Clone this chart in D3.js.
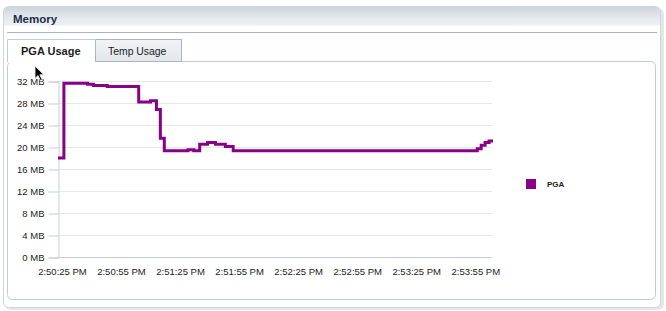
<!DOCTYPE html>
<html>
<head>
<meta charset="utf-8">
<script src="https://cdn.jsdelivr.net/npm/d3@7"></script>
<style>
  body { margin: 0; background: #fff; }
  svg text { font-family: "Liberation Sans", Arial, sans-serif; }
</style>
</head>
<body>
<div id="memory"></div>
<script>

// sample times (24h clock) and PGA usage in MB
var sampleTimes = ["14:50:23", "14:50:26", "14:50:38", "14:50:41", "14:50:48",
    "14:51:04", "14:51:10", "14:51:13", "14:51:15", "14:51:17",
    "14:51:29", "14:51:32", "14:51:35", "14:51:39", "14:51:43",
    "14:51:48", "14:51:52", "14:53:56", "14:53:58", "14:54:00",
    "14:54:02", "14:54:04"];
var pgaValues = [18.0, 31.6, 31.4, 31.2, 31.0,
    28.2, 28.4, 26.8, 21.6, 19.3,
    19.5, 19.3, 20.5, 20.8, 20.5,
    20.1, 19.3, 19.7, 20.3, 20.8,
    21.1, 21.1];

var yTicks = [0, 4, 8, 12, 16, 20, 24, 28, 32];
var xTickTimes = ["14:50:25", "14:50:55", "14:51:25", "14:51:55",
    "14:52:25", "14:52:55", "14:53:25", "14:53:55"];
var timeDomain = ["14:50:23", "14:54:04"];

var seriesNames = ["PGA"];
var tabNames = ["PGA Usage", "Temp Usage"];

/**
 * Constructor for the memory chart
 */
function MemoryChart(){
    var self = this;
    self.init();
};

/**
 * Draws the panel, header and tabs around the chart
 */
MemoryChart.prototype.init = function(){
    var self = this;
    self.width = 666;
    self.height = 311;

    self.svg = d3.select("#memory").append("svg")
        .attr("width", self.width)
        .attr("height", self.height);

    var defs = self.svg.append("defs");
    var hdr = defs.append("linearGradient").attr("id", "hdr")
        .attr("x1", 0).attr("y1", 0).attr("x2", 0).attr("y2", 1);
    hdr.append("stop").attr("offset", "0%").attr("stop-color", "#cfd4dd");
    hdr.append("stop").attr("offset", "60%").attr("stop-color", "#e6e9ee");
    hdr.append("stop").attr("offset", "100%").attr("stop-color", "#eef0f3");

    var tabg = defs.append("linearGradient").attr("id", "tabg")
        .attr("x1", 0).attr("y1", 0).attr("x2", 0).attr("y2", 1);
    tabg.append("stop").attr("offset", "0%").attr("stop-color", "#f1f3f6");
    tabg.append("stop").attr("offset", "100%").attr("stop-color", "#e3e7ec");

    //outer panel with a soft shadow
    self.svg.append("rect")
        .attr("x", 5).attr("y", 8).attr("width", 659).attr("height", 302)
        .attr("rx", 6).attr("fill", "#e4e6ea");
    self.svg.append("rect")
        .attr("x", 3.5).attr("y", 6.5).attr("width", 657).attr("height", 301)
        .attr("rx", 5).attr("fill", "#fff").attr("stroke", "#cfd4dc");

    //header band
    self.svg.append("path")
        .attr("d", "M4,25.5 L4,12 Q4,7 9,7 L655,7 Q660,7 660,12 L660,25.5 Z")
        .attr("fill", "url(#hdr)");
    self.svg.append("text")
        .attr("x", 13).attr("y", 22.5)
        .attr("font-size", "11.5px").attr("font-weight", "bold")
        .attr("fill", "#1c2d4a")
        .text("Memory");
    self.svg.append("line")
        .attr("x1", 7).attr("x2", 657).attr("y1", 32.5).attr("y2", 32.5)
        .attr("stroke", "#a8b3c5");

    //tab content box
    self.svg.append("rect")
        .attr("x", 7.5).attr("y", 61.5).attr("width", 648).attr("height", 238)
        .attr("rx", 5).attr("fill", "#fff").attr("stroke", "#c3cad6");

    //inactive tab
    self.svg.append("rect")
        .attr("x", 95.5).attr("y", 39.5).attr("width", 86).attr("height", 22)
        .attr("fill", "url(#tabg)").attr("stroke", "#a9b5c6");
    //active tab, open at the bottom
    self.svg.append("rect")
        .attr("x", 8).attr("y", 40).attr("width", 87).attr("height", 23)
        .attr("fill", "#fff");
    self.svg.append("path")
        .attr("d", "M7.5,62 L7.5,39.5 L95.5,39.5")
        .attr("fill", "none").attr("stroke", "#c3cad6");

    self.svg.append("text")
        .attr("x", 21).attr("y", 55)
        .attr("font-size", "11px").attr("font-weight", "bold")
        .attr("fill", "#1c1c1c")
        .text(tabNames[0]);
    self.svg.append("text")
        .attr("x", 108).attr("y", 55)
        .attr("font-size", "10.4px")
        .attr("fill", "#1c1c1c")
        .text(tabNames[1]);
};

/**
 * Draws axes, gridlines, the PGA step line and the legend
 */
MemoryChart.prototype.update = function(){
    var self = this;
    var parse = d3.timeParse("%H:%M:%S");

    var data = sampleTimes.map(function(t, i){
        return {time: parse(t), value: pgaValues[i]};
    });

    var xScale = d3.scaleTime()
        .domain(timeDomain.map(parse))
        .range([58, 493]);
    var yScale = d3.scaleLinear()
        .domain([0, 32])
        .range([257, 81]);

    //gridlines
    self.svg.append("g")
        .selectAll("line")
        .data(yTicks.filter(function(d){ return d > 0; }))
        .enter().append("line")
        .attr("x1", 58).attr("x2", 492)
        .attr("y1", function(d){ return Math.round(yScale(d)) + 0.5; })
        .attr("y2", function(d){ return Math.round(yScale(d)) + 0.5; })
        .attr("stroke", "#e8e8e8");

    var yAxis = d3.axisLeft(yScale)
        .tickValues(yTicks)
        .tickSize(10)
        .tickPadding(4)
        .tickFormat(function(d){ return d + " MB"; });
    var gy = self.svg.append("g")
        .attr("transform", "translate(58.5,0.5)")
        .call(yAxis);

    var xAxis = d3.axisBottom(xScale)
        .tickValues(xTickTimes.map(parse))
        .tickSize(0)
        .tickPadding(11)
        .tickFormat(d3.timeFormat("%-I:%M:%S %p"));
    var gx = self.svg.append("g")
        .attr("transform", "translate(0,257.5)")
        .call(xAxis);

    [gx, gy].forEach(function(g){
        g.select(".domain").attr("stroke", "#c6cedb");
        g.selectAll(".tick line").attr("stroke", "#c6cedb");
        g.selectAll("text")
            .attr("font-size", "9.5px")
            .attr("font-family", "Liberation Sans, Arial, sans-serif")
            .attr("fill", "#222");
    });
    gx.select(".domain").attr("d", "M58,0H492");

    //PGA line
    var line = d3.line()
        .x(function(d){ return xScale(d.time); })
        .y(function(d){ return yScale(d.value); })
        .curve(d3.curveStepAfter);

    self.svg.append("path")
        .datum(data)
        .attr("d", line)
        .attr("fill", "none")
        .attr("stroke", "#880088")
        .attr("stroke-width", 3);

    //legend
    var legend = self.svg.append("g")
        .selectAll("g")
        .data(seriesNames)
        .enter().append("g")
        .attr("transform", "translate(526,179)");
    legend.append("rect")
        .attr("width", 10).attr("height", 10)
        .attr("fill", "#880088");
    legend.append("text")
        .attr("x", 21).attr("y", 8)
        .attr("font-size", "8px").attr("font-weight", "bold")
        .attr("fill", "#222")
        .text(function(d){ return d; });

    //mouse pointer captured in the screenshot
    self.svg.append("path")
        .attr("d", "M35,66 L35,78.5 L38,75.6 L40.4,80.6 L42.2,79.8 L39.9,74.8 L44,74.8 Z")
        .attr("fill", "#000").attr("stroke", "#fff").attr("stroke-width", 0.8);
};

var chart = new MemoryChart();
chart.update();
</script>
</body>
</html>
